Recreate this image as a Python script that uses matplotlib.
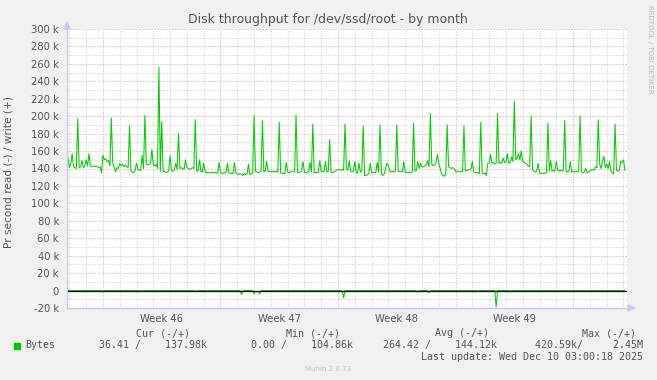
import numpy as np
import matplotlib
matplotlib.use("Agg")
import matplotlib.pyplot as plt
from matplotlib.patches import Polygon, Rectangle

plt.rcParams["lines.scale_dashes"] = False

# ---------------- data (values in k bytes/s, 2-hour samples) ----------------
# time origin: day 0 = Sun Nov 9 2025 00:00; first sample = day -3 20:00
sample_start_day = -2 - 2.0 / 12
samples_per_day = 12

write_pre = [141, 152]
write_days = [
    [141, 145, 157, 142, 141, 140, 197, 141, 142, 149, 141, 143],  # Nov 7
    [150, 143, 157, 143, 142, 143, 142, 143, 142, 141, 142, 135],  # Nov 8
    [155, 150, 151, 148, 149, 143, 198, 146, 142, 136, 141, 140],  # Nov 9
    [146, 143, 145, 142, 144, 142, 141, 189, 137, 136, 135, 138],  # Nov 10
    [146, 139, 138, 138, 155, 140, 201, 145, 144, 145, 146, 162],  # Nov 11
    [144, 143, 145, 140, 256, 137, 194, 136, 137, 135, 136, 137],  # Nov 12
    [155, 138, 137, 138, 146, 139, 180, 140, 141, 140, 139, 150],  # Nov 13
    [141, 140, 139, 140, 141, 140, 196, 138, 137, 150, 137, 136],  # Nov 14
    [146, 136, 135, 136, 135, 135, 136, 135, 136, 135, 135, 147],  # Nov 15
    [135, 134, 135, 135, 136, 146, 135, 134, 135, 134, 147, 135],  # Nov 16
    [134, 133, 134, 133, 132, 134, 133, 134, 145, 133, 134, 135],  # Nov 17
    [201, 137, 136, 135, 136, 136, 195, 136, 137, 148, 137, 136],  # Nov 18
    [137, 136, 137, 136, 137, 136, 193, 135, 134, 135, 134, 147],  # Nov 19
    [136, 135, 136, 137, 136, 136, 201, 136, 135, 136, 137, 148],  # Nov 20
    [136, 135, 136, 136, 147, 136, 191, 135, 136, 135, 136, 149],  # Nov 21
    [136, 137, 136, 148, 136, 137, 173, 136, 135, 136, 137, 138],  # Nov 22
    [139, 139, 138, 139, 138, 191, 140, 138, 149, 137, 136, 137],  # Nov 23
    [148, 135, 135, 146, 136, 137, 189, 132, 132, 133, 134, 146],  # Nov 24
    [135, 135, 136, 135, 147, 136, 190, 134, 132, 134, 140, 146],  # Nov 25
    [143, 137, 136, 137, 136, 137, 190, 137, 136, 137, 136, 148],  # Nov 26
    [136, 135, 135, 136, 135, 136, 192, 137, 138, 148, 140, 146],  # Nov 27
    [142, 142, 143, 144, 149, 142, 203, 145, 143, 144, 146, 156],  # Nov 28
    [146, 140, 134, 132, 131, 134, 190, 142, 141, 140, 141, 140],  # Nov 29
    [137, 136, 137, 136, 137, 136, 189, 137, 138, 138, 139, 139],  # Nov 30
    [148, 136, 135, 136, 135, 134, 193, 135, 134, 135, 132, 146],  # Dec 1
    [146, 156, 146, 147, 145, 146, 203, 146, 147, 146, 152, 147],  # Dec 2
    [147, 157, 146, 147, 153, 148, 217, 150, 152, 157, 150, 160],  # Dec 3
    [148, 147, 146, 145, 143, 142, 200, 139, 137, 136, 137, 146],  # Dec 4
    [135, 134, 135, 134, 135, 135, 192, 137, 149, 137, 138, 137],  # Dec 5
    [148, 138, 137, 138, 137, 138, 195, 137, 136, 137, 148, 136],  # Dec 6
    [137, 136, 137, 136, 137, 200, 136, 135, 136, 140, 135, 136],  # Dec 7
    [137, 138, 139, 138, 142, 141, 196, 145, 140, 148, 154, 141],  # Dec 8
    [145, 140, 148, 137, 135, 134, 191, 138, 137, 138, 148, 147],  # Dec 9
]
write_post = [150, 138]

read_pre = [0, 0]
read_days = [
    [0, 0, 0, 0, 0, 0, 0, 0, 0, 0, 0, 0],        # Nov 7
    [0, 0, 0, 0, 0, 0, 0, 0, 0, 0, 0, 0],        # Nov 8
    [0.8, 0, 0, 0, 0, 0, 0, 0, 0, 0, 0, 0],      # Nov 9
    [0, 0, 0, 0, 0, 0, 0, 0, 0, 0, 0, 0],        # Nov 10
    [0, 0, 0, 0, 0.8, 0, 0, 0, 0, 0, 0, 0],      # Nov 11
    [0, 0, 0, 0, 0, 0, 0, 0, 0, 0, 0, 0],        # Nov 12
    [0, 0, 0, 0, 0, 0, 0, 0, 0, 0, 0, 0],        # Nov 13
    [0, 0, 0, 0, 0, 0, 1.2, 0, 0, 0, 0, 0],      # Nov 14
    [0, 0, 0, 1.0, 0, 0, 0, 0, 0, 0, 0, 0],      # Nov 15
    [0, 0, 0, 0, 0, 0, 0, 0, 0, 0, 0, 0],        # Nov 16
    [0, 0, 0, 4.6, 0, 0, 0, 0, 0, 0, 0, 0],      # Nov 17
    [4.0, 1.0, 1.5, 1.0, 4.0, 0, 0, 0, 0, 0, 0, 0],  # Nov 18
    [0, 0, 0, 0, 0, 0, 0, 0, 0, 0, 0, 0],        # Nov 19
    [0, 0, 0, 0, 0, 0, 0, 0, 0, 0, 0, 0],        # Nov 20
    [0, 0, 0, 0, 0, 0, 0, 0, 0, 0, 0, 0],        # Nov 21
    [0, 0, 0, 0, 0, 0, 0, 0, 0, 0, 0, 0],        # Nov 22
    [0, 0, 0, 0, 8.4, 0, 0, 0, 0, 0, 0, 0],      # Nov 23
    [0, 0, 0, 0, 0, 0, 0, 0, 0, 0, 0, 0],        # Nov 24
    [0, 0, 0, 0, 0, 0, 0, 0, 0, 0, 0, 0],        # Nov 25
    [0, 0.5, 0, 0, 0, 0, 0, 0, 0, 0, 0, 0],      # Nov 26
    [0, 0, 0, 0, 0, 0, 0, 0, 0, 1.5, 0, 0],      # Nov 27
    [0, 0, 0, 0, 0, 2.5, 0, 0, 0, 0, 0, 0],      # Nov 28
    [0, 0, 0, 0, 0, 0, 0, 0, 0, 0, 0, 0],        # Nov 29
    [0, 0, 0, 0, 0, 0, 0, 0, 0, 0, 0, 0],        # Nov 30
    [0, 0, 0, 0, 0.8, 0, 0, 0, 0, 0, 0, 0],      # Dec 1
    [0, 0, 0, 0, 0, 19.0, 0, 0, 0, 0, 0, 0],     # Dec 2
    [0, 0, 0, 1.0, 0, 0, 0, 0, 0, 0, 0, 0],      # Dec 3
    [0, 0, 0, 0, 0, 0, 0, 0, 0, 0, 0, 0],        # Dec 4
    [0, 0, 0, 0, 0, 0, 0, 0, 0, 0, 0, 0],        # Dec 5
    [0, 0, 0, 0, 0, 0, 0, 0, 0, 0, 0, 0],        # Dec 6
    [0, 0, 0, 0, 0, 0, 0, 0, 0, 0, 0, 0],        # Dec 7
    [0, 0, 0, 0, 0, 0, 0, 0, 0, 0, 0, 0],        # Dec 8
    [0, 0, 0, 0, 0, 0, 0, 0, 0, 0, 0, 0],        # Dec 9
]
read_post = [0, 0.04]

y_ticks = [-20, 0, 20, 40, 60, 80, 100, 120, 140, 160, 180, 200, 220, 240, 260, 280, 300]
y_tick_labels = ["-20 k", "0", "20 k", "40 k", "60 k", "80 k", "100 k", "120 k", "140 k",
                 "160 k", "180 k", "200 k", "220 k", "240 k", "260 k", "280 k", "300 k"]
week_starts = [0, 7, 14, 21, 28]
week_labels = ["Week 46", "Week 47", "Week 48", "Week 49"]

title = "Disk throughput for /dev/ssd/root - by month"
ylabel = "Pr second read (-) / write (+)"
legend_name = "Bytes"
legend_cur = "36.41 /    137.98k"
legend_min = "0.00 /    104.86k"
legend_avg = "264.42 /    144.12k"
legend_max = "420.59k/     2.45M"
last_update = "Last update: Wed Dec 10 03:00:18 2025"

# ---------------- assemble ----------------
write = np.array(write_pre + [v for row in write_days for v in row] + write_post, dtype=float)
read = np.array(read_pre + [v for row in read_days for v in row] + read_post, dtype=float)
t = sample_start_day + np.arange(len(write)) / samples_per_day

W, H = 657, 380
fig = plt.figure(figsize=(W / 100, H / 100), dpi=100, facecolor="#F0F0F0")
L, R, T, B = 67, 627, 29, 308
ax = fig.add_axes([L / W, 1 - B / H, (R - L) / W, (B - T) / H])
ax.set_facecolor("white")

xmin, xmax = -2.14, 31.21
ymin, ymax = -20, 300
ax.set_xlim(xmin, xmax)
ax.set_ylim(ymin, ymax)

minor_col = "#c4c4c4"
major_col = "#ec9494"
lw = 0.72
gk = dict(lw=lw, dashes=(0.72, 1.44), antialiased=True)
# minor grid
for y in range(-20, 301, 10):
    if y % 20 != 0:
        ax.axhline(y, color=minor_col, zorder=1, **gk)
for d in range(-2, 32):
    if d not in week_starts:
        ax.axvline(d, color=minor_col, zorder=1, **gk)
# major grid
for y in y_ticks:
    ax.axhline(y, color=major_col, zorder=2, **gk)
for d in week_starts:
    ax.axvline(d, color=major_col, zorder=2, **gk)

green = "#00CC00"
ax.plot(t, write, color=green, lw=0.75, zorder=4)
ax.plot(t, -read, color=green, lw=0.75, zorder=4)
ax.axhline(0, color="black", lw=0.9, zorder=5)

for s in ax.spines.values():
    s.set_visible(False)
ax.set_yticks(y_ticks)
ax.set_yticklabels(y_tick_labels)
ax.set_xticks([])
ax.tick_params(axis="y", length=0, pad=5.8, labelsize=7.2, labelcolor="#555555")

axis_col = "#c8c8f0"
ax.plot([0, 0], [0, 1.015], transform=ax.transAxes, color=axis_col, lw=1.0, clip_on=False, zorder=6)
ax.plot([0, 1.01], [0, 0], transform=ax.transAxes, color=axis_col, lw=1.0, clip_on=False, zorder=6)
# arrows
px = lambda x, y: (x / W, 1 - y / H)
fig.patches.append(Polygon([px(64, 29), px(70, 29), px(67, 22)], closed=True,
                           transform=fig.transFigure, color=axis_col, zorder=7))
fig.patches.append(Polygon([px(628, 305), px(628, 311), px(635, 308)], closed=True,
                           transform=fig.transFigure, color=axis_col, zorder=7))

for i, lab in enumerate(week_labels):
    ax.text((week_starts[i] + week_starts[i + 1]) / 2, -0.02, lab,
            transform=ax.get_xaxis_transform(), ha="center", va="top",
            fontsize=7.2, color="#555555")

fig.text(328 / W, 1 - 19 / H, title, ha="center", va="center", fontsize=9, color="#555555")
fig.text(9 / W, 1 - 172 / H, ylabel, ha="center", va="center", rotation=90,
         fontsize=7.6, color="#555555")
fig.text(650 / W, 1 - 5 / H, "RRDTOOL / TOBI OETIKER", ha="center", va="top", rotation=270,
         fontsize=5, color="#bbbbbb")

mono = "DejaVu Sans Mono"
tc = "#555555"
fs = 7.2
fig.text(163 / W, 1 - 333 / H, "Cur (-/+)", ha="center", va="center", family=mono, fontsize=fs, color=tc)
fig.text(313 / W, 1 - 333 / H, "Min (-/+)", ha="center", va="center", family=mono, fontsize=fs, color=tc)
fig.text(462 / W, 1 - 333 / H, "Avg (-/+)", ha="center", va="center", family=mono, fontsize=fs, color=tc)
fig.text(636 / W, 1 - 333 / H, "Max (-/+)", ha="right", va="center", family=mono, fontsize=fs, color=tc)

fig.patches.append(Rectangle(px(14, 349), 6 / W, 6 / H, transform=fig.transFigure, color=green))
fig.text(25 / W, 1 - 345 / H, legend_name, ha="left", va="center", family=mono, fontsize=fs, color=tc)
fig.text(207 / W, 1 - 345 / H, legend_cur, ha="right", va="center", family=mono, fontsize=fs, color=tc)
fig.text(353 / W, 1 - 345 / H, legend_min, ha="right", va="center", family=mono, fontsize=fs, color=tc)
fig.text(497 / W, 1 - 345 / H, legend_avg, ha="right", va="center", family=mono, fontsize=fs, color=tc)
fig.text(643 / W, 1 - 345 / H, legend_max, ha="right", va="center", family=mono, fontsize=fs, color=tc)
fig.text(643 / W, 1 - 357 / H, last_update, ha="right", va="center", family=mono, fontsize=fs, color=tc)
fig.text(328 / W, 1 - 369 / H, "Munin 2.0.73", ha="center", va="center", fontsize=5, color="#c0c0c0")

fig.savefig("out.png", dpi=100, facecolor=fig.get_facecolor())
